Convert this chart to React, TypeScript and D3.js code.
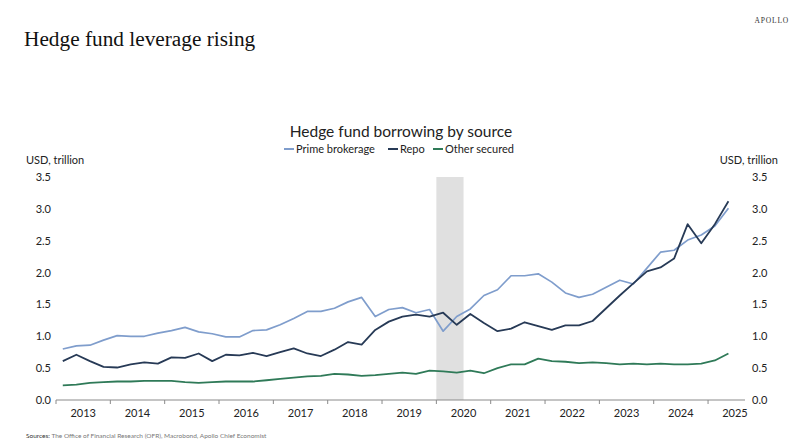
import React, { useEffect, useRef } from 'react';
import * as d3 from 'd3';

// Quarterly observations, Q1 2013 .. Q2 2025 (USD trillion)
const firstYear = 2013;
const quarterCount = 50;

const primeBrokerage = [
  0.80, 0.85, 0.86, 0.94, 1.01, 1.00, 1.00, 1.05, 1.09, 1.14,
  1.07, 1.04, 0.99, 0.99, 1.09, 1.10, 1.18, 1.28, 1.39, 1.39,
  1.44, 1.54, 1.61, 1.31, 1.42, 1.45, 1.37, 1.42, 1.08, 1.31,
  1.43, 1.64, 1.73, 1.95, 1.95, 1.98, 1.85, 1.68, 1.61, 1.66,
  1.77, 1.88, 1.82, 2.07, 2.32, 2.35, 2.51, 2.59, 2.73, 3.01
];

const repo = [
  0.61, 0.71, 0.61, 0.52, 0.51, 0.56, 0.59, 0.57, 0.67, 0.66,
  0.73, 0.61, 0.71, 0.70, 0.74, 0.69, 0.75, 0.81, 0.73, 0.69,
  0.79, 0.91, 0.87, 1.10, 1.23, 1.31, 1.34, 1.31, 1.37, 1.18,
  1.35, 1.21, 1.08, 1.12, 1.22, 1.16, 1.10, 1.17, 1.17, 1.24,
  1.44, 1.64, 1.83, 2.02, 2.08, 2.22, 2.76, 2.46, 2.76, 3.12
];

const otherSecured = [
  0.23, 0.24, 0.27, 0.28, 0.29, 0.29, 0.30, 0.30, 0.30, 0.28,
  0.27, 0.28, 0.29, 0.29, 0.29, 0.31, 0.33, 0.35, 0.37, 0.38,
  0.41, 0.40, 0.38, 0.39, 0.41, 0.43, 0.41, 0.46, 0.45, 0.43,
  0.46, 0.42, 0.50, 0.56, 0.56, 0.65, 0.61, 0.60, 0.58, 0.59,
  0.58, 0.56, 0.57, 0.56, 0.57, 0.56, 0.56, 0.57, 0.62, 0.73
];

const seriesNames = ['Prime brokerage', 'Repo', 'Other secured'];
const seriesColors = ['#7f9dcc', '#273a56', '#2f7a58'];
const yearTicks = [2013, 2014, 2015, 2016, 2017, 2018, 2019, 2020, 2021, 2022, 2023, 2024, 2025];
const yTicks = [0, 0.5, 1.0, 1.5, 2.0, 2.5, 3.0, 3.5];
const recession = [2020.0, 2020.5];

const sans = 'Lato, "Open Sans", sans-serif';

const App = () => {
  const ref = useRef<SVGSVGElement | null>(null);

  useEffect(() => {
    document.body.style.margin = '0';
    const svg = d3.select(ref.current);
    svg.selectAll('*').remove();

    const width = 800;
    const height = 447;

    const x = d3.scaleLinear().domain([2013, 2025.68]).range([56, 745]);
    const y = d3.scaleLinear().domain([0, 3.5]).range([400, 177]);

    // quarter mid-points
    const dates = d3.range(quarterCount).map(i => firstYear + 0.125 + i * 0.25);

    svg.append('rect')
      .attr('width', width)
      .attr('height', height)
      .attr('fill', '#ffffff');

    // headings
    svg.append('text')
      .attr('x', 789)
      .attr('y', 23)
      .attr('text-anchor', 'end')
      .attr('font-family', '"Liberation Serif", serif')
      .attr('font-size', 7.5)
      .attr('letter-spacing', 0.8)
      .attr('fill', '#333')
      .text('APOLLO');

    svg.append('text')
      .attr('x', 24)
      .attr('y', 46)
      .attr('font-family', '"Liberation Serif", serif')
      .attr('font-size', 21.3)
      .attr('fill', '#111')
      .text('Hedge fund leverage rising');

    svg.append('text')
      .attr('x', 401)
      .attr('y', 137)
      .attr('text-anchor', 'middle')
      .attr('font-family', sans)
      .attr('font-size', 15.5)
      .attr('fill', '#222')
      .text('Hedge fund borrowing by source');

    // legend
    const legendX = [284, 388, 433];
    const legend = svg.append('g').attr('font-family', sans).attr('font-size', 11).attr('fill', '#222');
    seriesNames.forEach((name, i) => {
      legend.append('line')
        .attr('x1', legendX[i])
        .attr('x2', legendX[i] + 10)
        .attr('y1', 149)
        .attr('y2', 149)
        .attr('stroke', seriesColors[i])
        .attr('stroke-width', 2);
      legend.append('text')
        .attr('x', legendX[i] + 12)
        .attr('y', 153)
        .text(name);
    });

    // unit labels
    svg.append('text')
      .attr('x', 26)
      .attr('y', 164)
      .attr('font-family', sans)
      .attr('font-size', 11)
      .attr('fill', '#222')
      .text('USD, trillion');
    svg.append('text')
      .attr('x', 778)
      .attr('y', 164)
      .attr('text-anchor', 'end')
      .attr('font-family', sans)
      .attr('font-size', 11)
      .attr('fill', '#222')
      .text('USD, trillion');

    // shaded band
    svg.append('rect')
      .attr('x', x(recession[0]))
      .attr('y', y(3.5))
      .attr('width', x(recession[1]) - x(recession[0]))
      .attr('height', y(0) - y(3.5))
      .attr('fill', '#e0e0e0');

    // y tick labels on both sides
    const yl = svg.append('g').attr('font-family', sans).attr('font-size', 11).attr('fill', '#222');
    yTicks.forEach(t => {
      yl.append('text')
        .attr('x', 51)
        .attr('y', y(t) + 4)
        .attr('text-anchor', 'end')
        .text(t.toFixed(1));
      yl.append('text')
        .attr('x', 752)
        .attr('y', y(t) + 4)
        .text(t.toFixed(1));
    });

    // x axis
    const xAxis = svg.append('g');
    xAxis.append('line')
      .attr('x1', x.range()[0])
      .attr('x2', x.range()[1])
      .attr('y1', y(0))
      .attr('y2', y(0))
      .attr('stroke', '#8a8a8a')
      .attr('stroke-width', 1);
    yearTicks.forEach(yr => {
      xAxis.append('line')
        .attr('x1', x(yr))
        .attr('x2', x(yr))
        .attr('y1', y(0))
        .attr('y2', y(0) + 4)
        .attr('stroke', '#8a8a8a');
      xAxis.append('text')
        .attr('x', Math.min(x(yr + 0.5), 735))
        .attr('y', 417)
        .attr('text-anchor', 'middle')
        .attr('font-family', sans)
        .attr('font-size', 11)
        .attr('fill', '#222')
        .text(yr);
    });

    // lines
    const line = d3.line<number>()
      .x((d, i) => x(dates[i]))
      .y(d => y(d));

    [primeBrokerage, repo, otherSecured].forEach((values, i) => {
      svg.append('path')
        .datum(values)
        .attr('d', line)
        .attr('fill', 'none')
        .attr('stroke', seriesColors[i])
        .attr('stroke-width', i === 0 ? 1.7 : 1.8)
        .attr('stroke-linejoin', 'round');
    });

    // sources
    const src = svg.append('text')
      .attr('x', 26)
      .attr('y', 438)
      .attr('font-family', sans)
      .attr('font-size', 6.5)
      .attr('fill', '#777');
    src.append('tspan').attr('fill', '#333').text('Sources: ');
    src.append('tspan').text('The Office of Financial Research (OFR), Macrobond, Apollo Chief Economist');
  }, []);

  return (
    <div style={{ position: 'absolute', left: 0, top: 0 }}>
      <svg ref={ref} width={800} height={447} style={{ display: 'block' }} />
    </div>
  );
};

export default App;
